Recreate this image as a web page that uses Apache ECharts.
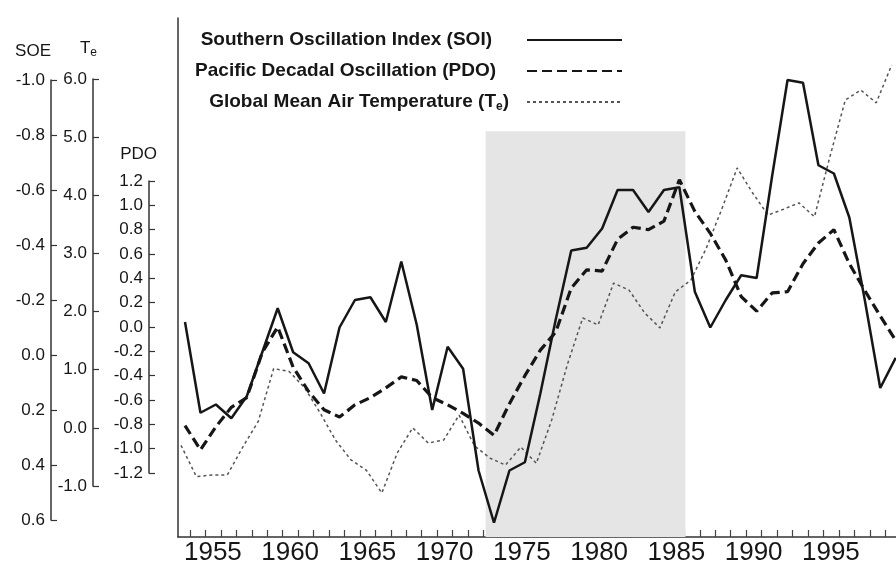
<!DOCTYPE html>
<html><head><meta charset="utf-8">
<script src="https://cdn.jsdelivr.net/npm/echarts@6/dist/echarts.min.js"></script>
<style>html,body{margin:0;padding:0;background:#fff}#c{width:896px;height:566px}</style>
</head><body><div id="c"></div>
<script>
// ---- data ----
const years = [1953,1954,1955,1956,1957,1958,1959,1960,1961,1962,1963,1964,1965,1966,1967,1968,1969,1970,1971,1972,1973,1974,1975,1976,1977,1978,1979,1980,1981,1982,1983,1984,1985,1986,1987,1988,1989,1990,1991,1992,1993,1994,1995,1996,1997,1998,1999];
const soi = [-0.12,0.21,0.18,0.23,0.15,-0.01,-0.17,-0.01,0.03,0.14,-0.10,-0.20,-0.21,-0.12,-0.34,-0.11,0.20,-0.03,0.05,0.42,0.61,0.42,0.39,0.14,-0.13,-0.38,-0.39,-0.46,-0.60,-0.60,-0.52,-0.60,-0.61,-0.23,-0.10,-0.20,-0.29,-0.28,-0.65,-1.00,-0.99,-0.69,-0.66,-0.50,-0.20,0.12,0.01];
const pdo = [-0.81,-1.01,-0.82,-0.66,-0.58,-0.21,0.00,-0.33,-0.53,-0.68,-0.74,-0.64,-0.58,-0.50,-0.41,-0.44,-0.58,-0.64,-0.71,-0.79,-0.89,-0.63,-0.40,-0.19,-0.04,0.32,0.47,0.46,0.72,0.82,0.80,0.87,1.21,0.95,0.77,0.55,0.25,0.13,0.28,0.29,0.52,0.69,0.80,0.52,0.30,0.09,-0.11];
const temp = [-0.30,-0.84,-0.81,-0.81,-0.33,0.11,1.02,0.97,0.69,0.26,-0.21,-0.55,-0.73,-1.12,-0.43,0.00,-0.26,-0.21,0.22,-0.31,-0.52,-0.64,-0.33,-0.61,0.14,1.08,1.89,1.77,2.49,2.37,1.98,1.72,2.34,2.54,3.09,3.76,4.47,4.04,3.66,3.76,3.87,3.63,4.66,5.64,5.81,5.59,6.24];
const yearLabels = [1955,1960,1965,1970,1975,1980,1985,1990,1995];
const shadedPeriod = [1972.46, 1985.39];
const seriesNames = ['Southern Oscillation Index (SOI)','Pacific Decadal Oscillation (PDO)','Global Mean Air Temperature (Te)'];

// ---- layout helpers ----
const X_MIN = 1952.547, X_MAX = 1999.02, T_SHIFT = 0.26, TICK_SHIFT = 0.323;
const FONT = "'Liberation Sans', Arial, sans-serif";
const INK = '#161616';
const tickYears = years.slice(0, 46).map(y => y + TICK_SHIFT);
const fmt = v => (Math.abs(v) < 1e-9 ? 0 : v).toFixed(1);
const pairs = arr => years.map((y, i) => [y, arr[i]]);

const hiddenX = (g, shift) => ({gridIndex: g, type: 'value', min: X_MIN + shift, max: X_MAX + shift, show: false});
const sideAxis = (g, offset, min, max, interval, extra) => Object.assign({
  gridIndex: g, type: 'value', position: 'left', offset: offset, min: min, max: max, interval: interval,
  axisLine: {show: true, lineStyle: {color: '#333', width: 1.5}},
  axisTick: {show: true, inside: true, length: 6, lineStyle: {color: '#333', width: 1.2}},
  axisLabel: {formatter: fmt, fontSize: 17, color: INK, fontFamily: FONT, margin: 6},
  splitLine: {show: false},
  nameTextStyle: {fontSize: 17, color: INK, fontFamily: FONT, align: 'right'}
}, extra);

const LEG_FS = 19;
const legendBox = (i, top, gap) => ({
  data: [seriesNames[i]], right: 273, top: top, orient: 'vertical', padding: 0,
  align: 'right', itemWidth: 95, itemHeight: 14, selectedMode: false,
  itemStyle: {opacity: 0},
  formatter: i === 2 ? 'Global Mean Air Temperature {t|(T}{s|e}{t|)}' : undefined,
  textStyle: {fontSize: LEG_FS, fontWeight: 'bold', color: INK, fontFamily: FONT, lineHeight: 20, padding: [0, gap, 0, 0],
    rich: {t: {fontSize: LEG_FS, fontWeight: 'bold', color: INK, fontFamily: FONT},
           s: {fontSize: 12, fontWeight: 'bold', color: INK, fontFamily: FONT, padding: [9, 0, 0, 0]}}}
});

const chart = echarts.init(document.getElementById('c'), null, {renderer: 'canvas'});
chart.setOption({
  animation: false,
  backgroundColor: '#fff',
  textStyle: {fontFamily: FONT},
  grid: [
    {left: 178, right: 0, top: 18, bottom: 29},
    {left: 178, right: 0, top: 80, bottom: 46},
    {left: 178, right: 0, top: 79, bottom: 80},
    {left: 178, right: 0, top: 181, bottom: 93}
  ],
  legend: [legendBox(0, 30, 30), legendBox(1, 61, 26), legendBox(2, 92, 13)],
  xAxis: [
    {gridIndex: 0, type: 'value', min: X_MIN, max: X_MAX,
      axisLine: {show: true, lineStyle: {color: '#333', width: 1.5}},
      axisTick: {show: true, inside: true, length: 7, customValues: tickYears, lineStyle: {color: '#444', width: 1.2}},
      axisLabel: {customValues: yearLabels, formatter: v => String(Math.round(v)), fontSize: 26, color: INK, fontFamily: FONT, margin: 3, padding: [0, 6, 0, 0]},
      splitLine: {show: false}},
    hiddenX(1, 0), hiddenX(2, T_SHIFT), hiddenX(3, 0)
  ],
  yAxis: [
    {gridIndex: 0, type: 'value', min: 0, max: 1,
      axisLine: {show: true, lineStyle: {color: '#333', width: 1.5}},
      axisTick: {show: false}, axisLabel: {show: false}, splitLine: {show: false}},
    sideAxis(1, 127, -1, 0.6, 0.2, {inverse: true, name: 'SOE', nameLocation: 'start', nameGap: 20}),
    sideAxis(2, 85, -1, 6, 1, {name: '{t|T}{s|e}', nameLocation: 'end', nameGap: 20,
      nameTextStyle: {align: 'right', padding: [0, -4, 0, 0], rich: {t: {fontSize: 17, color: INK, fontFamily: FONT}, s: {fontSize: 12, color: INK, fontFamily: FONT, padding: [9, 0, 0, 0]}}}}),
    sideAxis(3, 29, -1.2, 1.2, 0.2, {name: 'PDO', nameLocation: 'end', nameGap: 18,
      nameTextStyle: {fontSize: 17, color: INK, fontFamily: FONT, align: 'right', padding: [0, -8, 0, 0]}})
  ],
  series: [
    {type: 'line', xAxisIndex: 0, yAxisIndex: 0, data: [], silent: true, z: 0,
      markArea: {silent: true, itemStyle: {color: '#e5e5e5'},
        data: [[{xAxis: shadedPeriod[0], yAxis: 0}, {xAxis: shadedPeriod[1], yAxis: 0.782}]]}},
    {name: seriesNames[0], type: 'line', xAxisIndex: 1, yAxisIndex: 1, data: pairs(soi), symbol: 'none', clip: false, z: 5,
      color: INK, lineStyle: {color: INK, width: 2.5}},
    {name: seriesNames[1], type: 'line', xAxisIndex: 3, yAxisIndex: 3, data: pairs(pdo), symbol: 'none', clip: false, z: 4,
      color: INK, lineStyle: {color: INK, width: 3.2, type: [10, 5]}},
    {name: seriesNames[2], type: 'line', xAxisIndex: 2, yAxisIndex: 2, data: pairs(temp), symbol: 'none', clip: false, z: 3,
      color: '#555', lineStyle: {color: '#555', width: 1.5, type: [3, 3]}}
  ]
});
</script>
</body></html>
